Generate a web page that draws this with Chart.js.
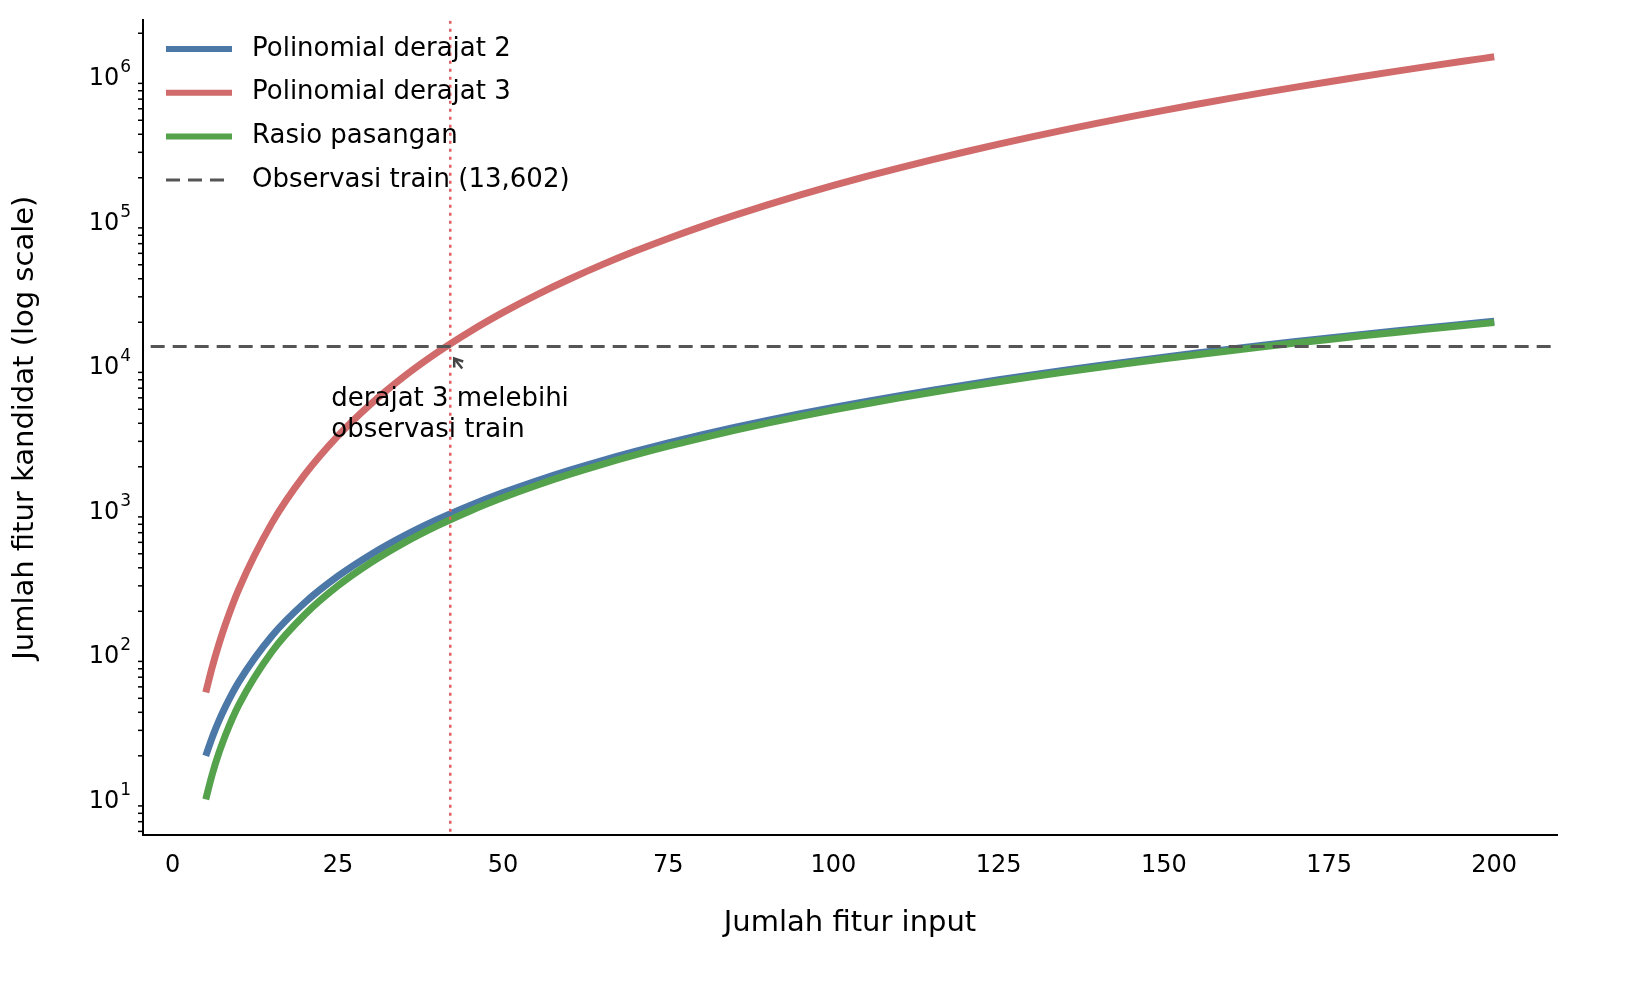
<!DOCTYPE html>
<html><head><meta charset="utf-8">
<script src="https://cdn.jsdelivr.net/npm/chart.js@4.4.1/dist/chart.umd.min.js"></script>
<style>html,body{margin:0;padding:0;background:#fff}#w{width:1633px;height:991px}</style>
</head><body><div id="w"><canvas id="c"></canvas></div>
<script>
const inputs = [5,6,7,8,10,15,20,25,30,35,40,45,50,55,60,65,70,75,80,85,90,95,100,105,110,115,120,125,130,135,140,145,150,155,160,165,170,175,180,185,190,195,200];
const poly2 = [20,27,35,44,65,135,230,350,495,665,860,1080,1325,1595,1890,2210,2555,2925,3320,3740,4185,4655,5150,5670,6215,6785,7380,8000,8645,9315,10010,10730,11475,12245,13040,13860,14705,15575,16470,17390,18335,19305,20300];
const poly3 = [55,83,119,164,285,815,1770,3275,5455,8435,12340,17295,23425,30855,39710,50115,62195,76075,91880,109735,129765,152095,176850,204155,234135,266915,302620,341375,383305,428535,477190,529395,585275,644955,708560,776215,848045,924175,1004730,1089835,1179615,1274195,1373700];
const ratio = [10,15,21,28,45,105,190,300,435,595,780,990,1225,1485,1770,2080,2415,2775,3160,3570,4005,4465,4950,5460,5995,6555,7140,7750,8385,9045,9730,10440,11175,11935,12720,13530,14365,15225,16110,17020,17955,18915,19900];
const trainObs = 13602;
const crossX = 42;
const xTicks = [0,25,50,75,100,125,150,175,200];
const yMajor = [10,100,1000,10000,100000,1000000];
const legendItems = [
  {label:'Polinomial derajat 2', color:'#4c78a8', dash:[]},
  {label:'Polinomial derajat 3', color:'#d16b6b', dash:[]},
  {label:'Rasio pasangan', color:'#54a24b', dash:[]},
  {label:'Observasi train (13,602)', color:'#555555', dash:[14,8]}
];
const pts = a => inputs.map((x,i)=>({x, y:a[i]}));
const F = 'DejaVu Sans';

const overlay = {
  id:'overlay',
  afterDraw(ch){
    const c = ch.ctx, xs = ch.scales.x, ys = ch.scales.y, ca = ch.chartArea;
    c.save();
    c.strokeStyle='#000'; c.lineWidth=1.5;
    for(let e=0;e<7;e++) for(let m=2;m<10;m++){
      const v=m*Math.pow(10,e); const p=ys.getPixelForValue(v);
      if(p<ca.top||p>ca.bottom) continue;
      c.beginPath(); c.moveTo(ca.left,p); c.lineTo(ca.left-5,p); c.stroke();
    }
    // y tick labels with superscripts
    c.fillStyle='#000'; c.textAlign='right'; c.textBaseline='middle';
    yMajor.forEach(v=>{
      const p=ys.getPixelForValue(v), e=String(Math.round(Math.log10(v)));
      c.font='17px "'+F+'"'; const ew=c.measureText(e).width;
      c.fillText(e, ca.left-12, p-9);
      c.font='24px "'+F+'"'; c.fillText('10', ca.left-12-ew-1, p+2);
    });
    c.textAlign='left';
    c.font='26px "'+F+'"';
    const tx = xs.getPixelForValue(24), ty = ys.getPixelForValue(5900);
    c.fillText('derajat 3 melebihi', tx, ty);
    c.fillText('observasi train', tx, ty+31);
    const ax = xs.getPixelForValue(42.6), ay = ys.getPixelForValue(trainObs)+12;
    c.strokeStyle='#444'; c.lineWidth=2.5;
    c.beginPath(); c.moveTo(ax+8,ay+10); c.lineTo(ax,ay); c.stroke();
    c.beginPath(); c.moveTo(ax,ay+9); c.lineTo(ax,ay); c.lineTo(ax+9,ay+3); c.stroke();
    legendItems.forEach((it,i)=>{
      const y=49+i*43.7;
      c.strokeStyle=it.color; c.lineWidth=it.dash.length?3:6; c.setLineDash(it.dash);
      c.beginPath(); c.moveTo(166,y); c.lineTo(232,y); c.stroke(); c.setLineDash([]);
      c.fillStyle='#000'; c.fillText(it.label,252,y);
    });
    c.restore();
  }
};

new Chart(document.getElementById('c'),{
  type:'line',
  data:{datasets:[
    {data:[{x:crossX,y:1},{x:crossX,y:1e8}],borderColor:'#e06060',borderWidth:2.5,borderDash:[3,5],pointRadius:0,tension:0,order:0},
    {data:[{x:-10,y:trainObs},{x:220,y:trainObs}],borderColor:'#555',borderWidth:3,borderDash:[14,8],pointRadius:0,tension:0,order:1},
    {data:pts(poly2),borderColor:'#4c78a8',borderWidth:7,pointRadius:0,cubicInterpolationMode:'monotone',order:4},
    {data:pts(poly3),borderColor:'#d16b6b',borderWidth:7,pointRadius:0,cubicInterpolationMode:'monotone',order:3},
    {data:pts(ratio),borderColor:'#54a24b',borderWidth:7,pointRadius:0,cubicInterpolationMode:'monotone',order:2}
  ]},
  options:{
    responsive:true,maintainAspectRatio:false,animation:false,devicePixelRatio:1,
    layout:{padding:{left:0,right:76,top:12,bottom:0}},
    plugins:{legend:{display:false},tooltip:{enabled:false}},
    scales:{
      x:{type:'linear',min:-4.5,max:209.5,
        afterFit(s){s.height=156;},
        afterBuildTicks(s){s.ticks=xTicks.map(v=>({value:v}));},
        grid:{display:false,drawTicks:true,tickLength:8,tickWidth:2,tickColor:'#000'},
        border:{color:'#000',width:2},
        ticks:{color:'#000',font:{family:F,size:24},padding:8},
        title:{display:true,text:'Jumlah fitur input',color:'#000',font:{family:F,size:29},padding:{top:4,bottom:50}}},
      y:{type:'logarithmic',min:Math.pow(10,0.753),max:Math.pow(10,6.39),
        afterFit(s){s.width=143;},
        afterBuildTicks(s){s.ticks=yMajor.map(v=>({value:v}));},
        grid:{display:false,drawTicks:true,tickLength:8,tickWidth:2,tickColor:'#000'},
        border:{color:'#000',width:2},
        ticks:{color:'rgba(0,0,0,0)',font:{family:F,size:24},padding:6,
          callback:v=>'10^'+Math.round(Math.log10(v))},
        title:{display:true,text:'Jumlah fitur kandidat (log scale)',color:'#000',font:{family:F,size:29},padding:{top:8,bottom:4}}}
    }
  },
  plugins:[overlay]
});
</script></body></html>
